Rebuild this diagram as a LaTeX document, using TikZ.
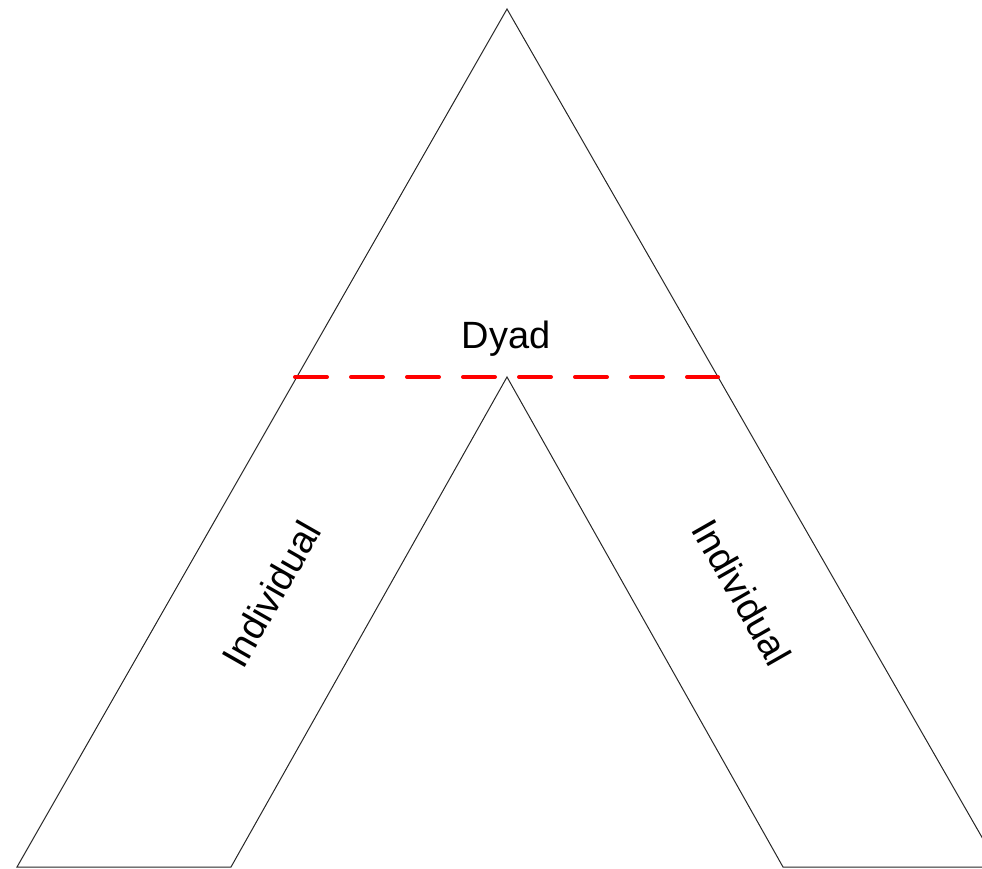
\documentclass[tikz,border=0pt]{standalone}
\usepackage{fontspec}
\setmainfont{Liberation Sans}
\begin{document}
\begin{tikzpicture}[x=1pt,y=-1pt,
  outline/.style={draw=black!85,line width=1pt,line join=miter},
  redline/.style={draw=red,line width=4pt,line cap=round,dash pattern=on 32pt off 24pt},
  lbl/.style={font=\fontsize{38}{42}\selectfont,inner sep=0pt}]
\useasboundingbox (0,0) rectangle (982,869);
\begin{scope}
\clip (0,0) rectangle (982,869);
\coordinate (apex) at (507,9);
\coordinate (lob) at (17,867);
\coordinate (lib) at (231,867);
\coordinate (iapex) at (507,377);
\coordinate (rib) at (783,867);
\coordinate (rob) at (999,867);
\draw[outline] (lob) -- (apex) -- (rob) -- (rib) -- (iapex) -- (lib) -- cycle;
\end{scope}
\coordinate (dl) at (295,377);
\coordinate (dr) at (718,377);
\draw[redline] (dl) -- (dr);
\node[lbl,anchor=base] (dyad) at (506,348) {Dyad};
\node[lbl,rotate=60.3] (indl) at (271,594) {Individual};
\node[lbl,rotate=-60.3] (indr) at (742,592) {Individual};
\end{tikzpicture}
\end{document}
